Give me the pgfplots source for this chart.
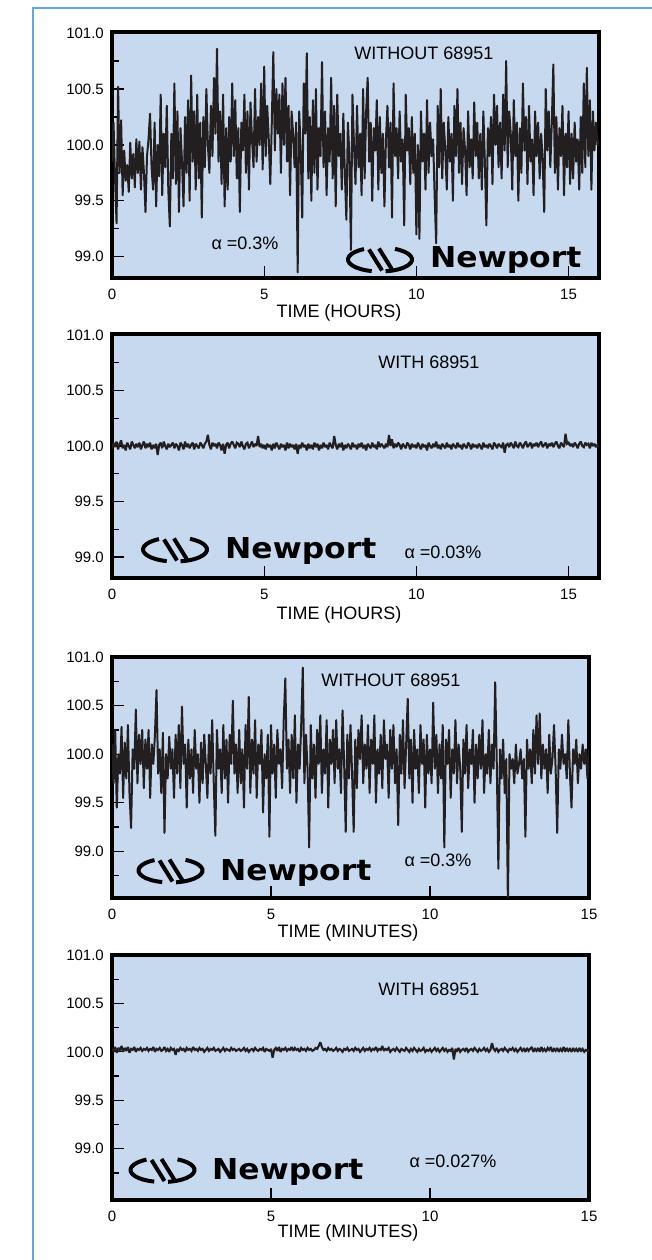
\documentclass[border=0pt]{standalone}
\usepackage{fontspec}
\setmainfont{Liberation Sans}
\newfontfamily\logofont{DejaVu Sans}
\usepackage{graphicx}
\usepackage{pgfplots}
\usepackage{pgfplotstable}
\pgfplotsset{compat=1.18}

\definecolor{panelblue}{RGB}{199,217,239}
\definecolor{tracecol}{RGB}{35,31,32}
\definecolor{framebl}{RGB}{96,168,226}

% Relative reading (%) sampled every 0.05 h -- without the 68951
\pgfplotstableread[row sep=\\, header=false]{
99.85\\100.2\\99.7\\99.3\\100.52\\99.75\\100.22\\99.55\\99.95\\99.68\\99.82\\99.58\\100.02\\99.7\\99.92\\99.62\\100.05\\99.75\\100.03\\99.6\\
99.98\\99.75\\99.4\\99.9\\100.05\\100.28\\99.8\\99.6\\100.2\\99.45\\100.0\\99.72\\100.45\\99.55\\100.1\\99.8\\100.35\\99.6\\99.27\\100.1\\
99.7\\100.55\\99.65\\100.3\\99.4\\100.15\\99.85\\99.45\\100.25\\99.75\\100.4\\99.5\\100.62\\99.85\\100.3\\99.6\\100.45\\99.7\\100.2\\99.35\\
100.25\\99.8\\100.5\\100.0\\99.75\\100.35\\99.9\\100.6\\100.1\\100.86\\99.85\\100.3\\99.65\\100.45\\99.45\\100.15\\99.6\\100.25\\99.85\\100.55\\
99.9\\100.4\\99.7\\100.15\\99.4\\100.2\\99.95\\100.45\\99.75\\100.3\\99.6\\100.38\\100.05\\99.8\\100.5\\99.85\\100.25\\100.0\\100.55\\99.78\\
100.7\\99.9\\100.35\\100.05\\99.65\\100.2\\100.83\\99.95\\100.5\\100.1\\100.45\\99.75\\100.55\\100.0\\100.6\\99.85\\100.35\\99.55\\100.3\\100.1\\
99.8\\100.2\\98.86\\100.3\\99.95\\99.35\\100.55\\100.1\\100.82\\99.7\\100.25\\99.5\\100.4\\99.75\\100.5\\99.6\\100.15\\99.9\\100.74\\99.8\\
100.3\\99.55\\100.15\\99.85\\100.6\\99.7\\100.35\\99.45\\100.45\\99.9\\100.1\\99.6\\100.28\\99.75\\99.33\\100.2\\99.9\\99.06\\100.45\\100.0\\
99.65\\100.35\\99.8\\100.1\\99.55\\100.5\\99.7\\100.3\\100.6\\99.85\\100.2\\99.5\\100.15\\99.95\\100.4\\99.6\\100.25\\99.75\\100.1\\99.45\\
100.05\\100.35\\99.8\\100.2\\99.35\\100.55\\99.9\\100.15\\99.7\\100.3\\99.85\\100.05\\99.28\\100.45\\99.95\\100.15\\99.65\\100.25\\99.75\\100.1\\
99.2\\100.0\\99.16\\100.3\\99.85\\100.1\\99.6\\100.4\\99.75\\100.2\\99.9\\100.05\\99.55\\99.12\\100.35\\99.8\\100.5\\99.7\\100.2\\99.95\\
99.6\\100.25\\99.85\\100.1\\99.5\\100.35\\99.9\\100.5\\99.75\\100.2\\99.65\\100.15\\99.95\\99.55\\100.3\\99.8\\100.05\\99.7\\100.38\\99.9\\
100.2\\99.7\\100.1\\99.6\\100.3\\99.85\\99.28\\100.15\\99.9\\100.25\\99.65\\100.45\\100.0\\100.35\\99.8\\100.2\\99.7\\100.45\\99.95\\100.75\\
99.8\\100.3\\100.1\\99.6\\100.4\\99.9\\100.2\\99.5\\100.15\\99.75\\100.55\\99.95\\100.25\\99.65\\100.35\\99.85\\100.05\\99.55\\100.3\\99.9\\
100.2\\99.7\\100.1\\99.85\\99.4\\100.5\\99.95\\100.3\\99.8\\100.2\\100.72\\99.75\\100.25\\99.6\\100.15\\99.9\\100.35\\99.55\\100.1\\99.8\\
100.3\\99.65\\100.1\\99.7\\100.2\\99.85\\100.05\\99.6\\100.25\\99.75\\100.55\\99.8\\100.69\\99.9\\100.4\\99.6\\100.3\\99.95\\100.2\\100.0\\
100.05\\
}\hoursWithout

% Same run, sampled every 0.05 h -- with the 68951
\pgfplotstableread[row sep=\\, header=false]{
99.98\\100.03\\99.99\\100.04\\99.97\\100.02\\100.05\\99.98\\100.01\\99.96\\100.03\\100.00\\99.97\\100.04\\100.01\\99.98\\100.02\\99.99\\100.03\\99.97\\
100.01\\100.04\\99.98\\100.02\\99.99\\100.03\\99.97\\100.01\\99.98\\100.02\\99.92\\100.01\\100.03\\99.98\\100.04\\100.00\\99.97\\100.02\\99.99\\100.01\\
100.03\\99.98\\100.02\\100.00\\99.96\\100.03\\100.01\\99.97\\100.04\\99.99\\100.02\\99.98\\100.01\\100.03\\99.97\\100.02\\100.00\\99.98\\100.03\\100.01\\
99.98\\100.02\\100.04\\100.10\\100.01\\99.97\\100.03\\100.00\\100.02\\99.98\\100.03\\100.01\\99.96\\100.02\\99.93\\100.01\\100.03\\99.98\\100.02\\100.04\\
100.01\\99.98\\100.03\\100.02\\99.99\\100.04\\100.00\\99.97\\100.02\\100.03\\99.98\\100.01\\100.04\\99.99\\100.02\\100.00\\100.09\\99.99\\100.02\\99.98\\
100.01\\99.97\\100.02\\99.99\\100.01\\99.96\\100.02\\99.98\\100.03\\100.00\\99.97\\100.02\\99.99\\100.01\\99.96\\100.03\\99.98\\100.02\\99.99\\100.01\\
99.97\\100.02\\99.93\\100.01\\99.98\\100.03\\99.99\\100.01\\99.96\\100.02\\99.98\\100.01\\99.97\\100.03\\99.99\\100.02\\99.96\\100.01\\99.98\\100.03\\
99.99\\100.01\\99.97\\100.03\\100.00\\99.98\\100.09\\100.01\\99.97\\100.02\\99.99\\100.03\\99.96\\100.01\\99.98\\100.02\\100.00\\99.97\\100.03\\99.99\\
100.01\\99.97\\100.02\\99.99\\100.03\\99.98\\100.01\\99.96\\100.02\\100.00\\99.98\\100.03\\99.99\\100.01\\99.97\\100.04\\99.99\\100.02\\100.00\\99.98\\
100.02\\99.99\\100.10\\100.00\\100.06\\99.98\\100.02\\99.99\\100.03\\100.01\\99.97\\100.02\\100.00\\99.98\\100.03\\100.01\\99.97\\100.02\\99.99\\100.01\\
99.98\\100.03\\100.00\\99.97\\100.02\\99.99\\100.01\\99.96\\100.03\\100.00\\99.98\\100.02\\99.99\\100.04\\99.98\\100.01\\99.97\\100.02\\100.00\\99.98\\
100.03\\99.99\\100.01\\99.97\\100.02\\100.00\\99.98\\100.03\\99.99\\100.01\\99.97\\100.02\\100.00\\99.98\\100.03\\100.01\\99.97\\100.02\\99.99\\100.01\\
99.98\\100.02\\100.00\\99.97\\100.03\\99.99\\100.01\\99.98\\100.02\\100.00\\99.97\\100.03\\100.01\\99.98\\100.02\\100.00\\99.99\\100.03\\99.94\\100.01\\
100.02\\99.99\\100.03\\100.01\\99.98\\100.04\\100.00\\99.99\\100.03\\100.01\\99.98\\100.02\\100.04\\99.99\\100.01\\100.03\\99.98\\100.02\\100.00\\100.03\\
99.99\\100.02\\100.04\\99.99\\100.01\\100.03\\99.98\\100.02\\100.00\\100.03\\99.99\\100.02\\100.04\\100.00\\99.98\\100.03\\100.01\\99.99\\100.11\\100.02\\
100.03\\100.00\\100.02\\99.99\\100.03\\100.01\\99.98\\100.02\\100.04\\100.00\\99.99\\100.03\\100.01\\100.02\\99.98\\100.03\\100.00\\100.02\\99.99\\100.01\\
99.99\\
}\hoursWith

% Relative reading (%) sampled every 0.05 min -- without the 68951
\pgfplotstableread[row sep=\\, header=false]{
100.1\\99.7\\100.25\\99.45\\100.0\\99.8\\100.28\\99.55\\100.12\\99.75\\100.3\\99.6\\99.24\\100.05\\99.85\\100.46\\99.7\\100.2\\99.9\\100.25\\
99.65\\100.15\\99.85\\100.25\\99.55\\100.1\\99.9\\100.2\\100.66\\99.8\\100.05\\99.6\\100.22\\99.19\\100.0\\99.75\\100.18\\99.85\\100.05\\99.55\\
100.2\\99.8\\100.3\\99.65\\100.49\\99.9\\100.1\\99.45\\100.15\\99.75\\100.05\\99.6\\100.25\\99.85\\100.0\\99.5\\100.12\\99.7\\100.2\\99.9\\
99.55\\100.2\\99.8\\100.35\\99.7\\99.16\\100.25\\99.85\\100.05\\99.6\\100.3\\99.75\\100.15\\99.5\\100.2\\99.9\\100.55\\99.8\\100.1\\99.6\\
100.25\\99.7\\100.05\\99.45\\100.3\\99.85\\100.59\\99.6\\100.15\\99.8\\100.35\\99.55\\100.1\\99.9\\100.25\\99.4\\100.0\\99.75\\100.2\\99.15\\
100.3\\99.8\\100.1\\99.55\\100.25\\99.9\\100.05\\99.65\\100.35\\100.78\\99.85\\100.15\\99.6\\100.2\\99.75\\100.4\\99.5\\100.1\\99.85\\100.3\\
100.89\\99.7\\100.2\\99.85\\99.04\\100.3\\99.75\\100.1\\99.55\\100.25\\99.9\\100.4\\99.6\\100.05\\99.8\\100.35\\99.45\\100.15\\99.9\\100.25\\
99.7\\100.35\\99.85\\100.05\\99.6\\100.45\\99.9\\99.2\\100.2\\99.75\\100.3\\99.8\\99.2\\100.15\\99.65\\100.25\\99.95\\100.4\\99.7\\100.1\\
99.85\\100.3\\99.6\\100.15\\99.9\\100.4\\99.5\\100.05\\99.8\\100.2\\99.65\\100.35\\99.95\\100.1\\99.55\\100.25\\99.85\\100.3\\99.7\\100.05\\
99.27\\100.2\\99.8\\100.35\\99.65\\100.1\\100.57\\99.75\\100.15\\99.5\\100.25\\99.85\\100.05\\99.6\\100.3\\99.9\\100.15\\99.45\\100.2\\99.8\\
100.05\\99.7\\100.53\\99.85\\100.2\\99.6\\100.1\\99.75\\100.3\\99.04\\100.15\\99.9\\100.25\\99.55\\100.05\\99.8\\100.35\\99.7\\100.1\\99.85\\
99.2\\100.15\\99.8\\100.3\\99.65\\100.05\\99.9\\100.25\\99.5\\100.1\\99.75\\100.2\\99.85\\100.35\\99.6\\100.0\\99.8\\100.25\\99.7\\100.1\\
99.85\\100.74\\99.9\\98.82\\100.05\\99.75\\100.15\\99.6\\99.95\\98.45\\100.0\\99.85\\99.95\\99.7\\100.1\\99.8\\99.9\\100.05\\99.75\\99.95\\
99.15\\100.15\\99.85\\100.05\\99.7\\100.25\\99.8\\100.4\\99.9\\100.42\\99.75\\100.1\\99.85\\100.05\\99.6\\100.2\\99.8\\99.95\\100.3\\99.85\\
99.19\\100.05\\99.85\\100.2\\99.9\\100.0\\99.75\\100.35\\99.8\\99.45\\100.05\\99.9\\100.15\\99.7\\100.0\\99.85\\100.1\\99.9\\100.05\\99.75\\
100.05\\
}\minutesWithout

% Same run, sampled every 0.05 min -- with the 68951
\pgfplotstableread[row sep=\\, header=false]{
100.03\\100.01\\100.05\\99.99\\100.04\\100.02\\100.06\\100.00\\100.04\\100.01\\100.05\\99.99\\100.03\\100.02\\100.05\\100.00\\100.03\\100.02\\100.04\\100.01\\
100.03\\100.02\\100.04\\100.01\\100.03\\100.02\\100.05\\100.00\\100.03\\100.02\\100.04\\100.01\\100.02\\100.05\\100.01\\100.03\\100.00\\100.04\\100.02\\100.03\\
99.97\\100.03\\100.01\\100.04\\100.02\\100.03\\100.00\\100.04\\100.02\\100.03\\100.01\\100.05\\100.02\\100.03\\100.01\\100.04\\100.02\\100.03\\100.00\\100.02\\
100.04\\100.01\\100.03\\100.02\\100.04\\100.01\\100.02\\100.03\\100.00\\100.02\\100.04\\100.01\\100.03\\100.02\\100.01\\100.04\\100.02\\100.03\\100.01\\100.02\\
100.03\\100.01\\100.02\\100.04\\100.01\\100.03\\100.00\\100.02\\100.03\\100.01\\100.04\\100.02\\100.01\\100.03\\100.02\\100.04\\100.00\\100.03\\100.02\\100.01\\
100.03\\99.94\\100.02\\100.04\\100.01\\100.05\\100.00\\100.03\\100.02\\100.04\\100.01\\100.03\\100.02\\100.05\\100.01\\100.04\\100.02\\100.03\\100.00\\100.04\\
100.02\\100.03\\100.01\\100.04\\100.02\\100.03\\100.01\\100.02\\100.04\\100.03\\100.06\\100.10\\100.05\\100.02\\100.03\\100.01\\100.04\\100.02\\100.03\\100.01\\
100.02\\100.04\\100.01\\100.03\\100.02\\100.00\\100.03\\100.02\\100.04\\100.01\\100.02\\100.03\\100.01\\100.04\\100.02\\100.03\\100.00\\100.02\\100.04\\100.01\\
100.03\\100.02\\100.04\\100.01\\100.03\\100.02\\100.05\\100.01\\100.03\\100.02\\100.06\\100.01\\100.03\\100.02\\100.04\\100.00\\100.02\\100.03\\100.01\\100.04\\
100.02\\100.00\\100.03\\100.02\\100.01\\100.04\\100.02\\100.00\\100.03\\100.01\\100.04\\100.02\\100.00\\100.03\\100.01\\100.02\\100.04\\100.00\\100.02\\100.01\\
100.03\\100.00\\100.02\\100.04\\100.01\\100.03\\100.00\\100.02\\100.04\\100.01\\100.03\\100.00\\100.02\\100.01\\100.04\\99.92\\100.03\\100.01\\100.04\\100.00\\
100.02\\100.03\\100.01\\100.04\\100.00\\100.02\\100.03\\100.01\\100.04\\100.02\\100.00\\100.03\\100.01\\100.02\\100.04\\100.01\\100.03\\100.00\\100.02\\100.09\\
100.03\\100.01\\100.04\\100.00\\100.02\\100.03\\100.01\\100.04\\100.02\\100.00\\100.03\\100.02\\100.04\\100.01\\100.03\\100.00\\100.02\\100.04\\100.01\\100.03\\
100.00\\100.04\\100.01\\100.03\\100.05\\100.00\\100.03\\100.01\\100.04\\100.00\\100.05\\100.01\\100.03\\100.00\\100.04\\100.02\\100.05\\100.00\\100.03\\100.01\\
100.04\\100.00\\100.03\\100.01\\100.05\\100.00\\100.04\\100.01\\100.03\\100.00\\100.04\\100.01\\100.03\\100.00\\100.04\\100.01\\100.03\\100.00\\100.02\\100.01\\
100.02\\
}\minutesWith

\newcommand\ticksize{\fontsize{15}{17}\selectfont}
\newcommand\textsize{\fontsize{18}{20}\selectfont}

\pgfplotsset{
  panel/.style={
    scale only axis,
    axis background/.style={fill=panelblue},
    axis line style={line width=4pt, black},
    tick align=inside,
    xtick pos=bottom, ytick pos=left,
    xtick={0,5,10,15},
    ytick={99,99.5,100,100.5,101},
    minor ytick={98.75,99.25,99.75,100.25,100.75},
    major tick length=12pt, minor tick length=7pt,
    tick style={black, line width=1.3pt},
    yticklabel style={font=\ticksize, inner sep=0pt, anchor=east, xshift=-8pt},
    xticklabel style={font=\ticksize, inner sep=0pt, anchor=north, yshift=-11pt},
    /pgf/number format/assume math mode=true,
    y tick label style={/pgf/number format/fixed, /pgf/number format/fixed zerofill, /pgf/number format/precision=1},
  },
  noisy/.style={tracecol, line width=2.0pt, line join=round},
  calm/.style={tracecol, line width=2.1pt, line join=miter, miter limit=2},
}

% Newport emblem
\tikzset{
  nplogo/.pic={
    \begin{scope}[line width=4pt, line cap=butt, black]
      \draw (120:32pt and 12pt) arc[start angle=120, end angle=255, x radius=32pt, y radius=12pt];
      \draw (62:32pt and 12pt) arc[start angle=62, end angle=-80, x radius=32pt, y radius=12pt];
      \draw (-11pt,10pt) -- (2pt,-11pt);
      \draw (-1pt,11pt) -- (12pt,-10pt);
    \end{scope}
  }
}
\newcommand\wordmark{\logofont\bfseries\fontsize{28.8}{30}\selectfont\scalebox{1.09}[1]{Newport}}

\begin{document}
\begin{tikzpicture}
\path[use as bounding box] (0,0) rectangle (652pt,1260pt);
\draw[framebl, line width=2pt] (33pt,0pt) -- (33pt,1252pt) -- (652pt,1252pt);

% ---------- hours, without ----------
\begin{axis}[panel, at={(112pt,982pt)}, anchor=south west,
  width=487pt, height=246pt, xmin=0, xmax=16, ymin=98.81, ymax=101.01]
\addplot[noisy] table[x expr=\coordindex*0.05, y index=0] {\hoursWithout};
\end{axis}
\node[anchor=base, font=\textsize] at (424pt,1200.5pt) {WITHOUT 68951};
\node[anchor=base, font=\textsize] at (245pt,1010.5pt) {α =0.3\%};
\pic at (380pt,1000.5pt) {nplogo};
\node[anchor=base west, inner sep=0pt] at (430pt,992pt) {\wordmark};
\node[anchor=base, font=\textsize] at (339pt,942pt) {TIME (HOURS)};

% ---------- hours, with ----------
\begin{axis}[panel, at={(112pt,682pt)}, anchor=south west,
  width=487pt, height=244pt, xmin=0, xmax=16, ymin=98.81, ymax=101.01]
\addplot[calm] table[x expr=\coordindex*0.05, y index=0] {\hoursWith};
\end{axis}
\node[anchor=base, font=\textsize] at (429pt,891pt) {WITH 68951};
\node[anchor=base, font=\textsize] at (443pt,701pt) {α =0.03\%};
\pic at (175pt,710.5pt) {nplogo};
\node[anchor=base west, inner sep=0pt] at (225pt,701pt) {\wordmark};
\node[anchor=base, font=\textsize] at (339pt,640pt) {TIME (HOURS)};

% ---------- minutes, without ----------
\begin{axis}[panel, at={(112pt,362pt)}, anchor=south west,
  width=477pt, height=241pt, xmin=0, xmax=15, ymin=98.52, ymax=101.0]
\addplot[noisy] table[x expr=\coordindex*0.05, y index=0] {\minutesWithout};
\end{axis}
\node[anchor=base, font=\textsize] at (391pt,573pt) {WITHOUT 68951};
\node[anchor=base, font=\textsize] at (438pt,393pt) {α =0.3\%};
\pic at (170.5pt,389.5pt) {nplogo};
\node[anchor=base west, inner sep=0pt] at (220pt,379pt) {\wordmark};
\node[anchor=base, font=\textsize] at (348pt,322pt) {TIME (MINUTES)};

% ---------- minutes, with ----------
\begin{axis}[panel, at={(112pt,60pt)}, anchor=south west,
  width=477pt, height=245pt, xmin=0, xmax=15, ymin=98.47, ymax=101.0]
\addplot[calm] table[x expr=\coordindex*0.05, y index=0] {\minutesWith};
\end{axis}
\node[anchor=base, font=\textsize] at (429pt,264pt) {WITH 68951};
\node[anchor=base, font=\textsize] at (453pt,92pt) {α =0.027\%};
\pic at (162.5pt,90pt) {nplogo};
\node[anchor=base west, inner sep=0pt] at (212pt,80pt) {\wordmark};
\node[anchor=base, font=\textsize] at (348pt,22pt) {TIME (MINUTES)};
\end{tikzpicture}
\end{document}
